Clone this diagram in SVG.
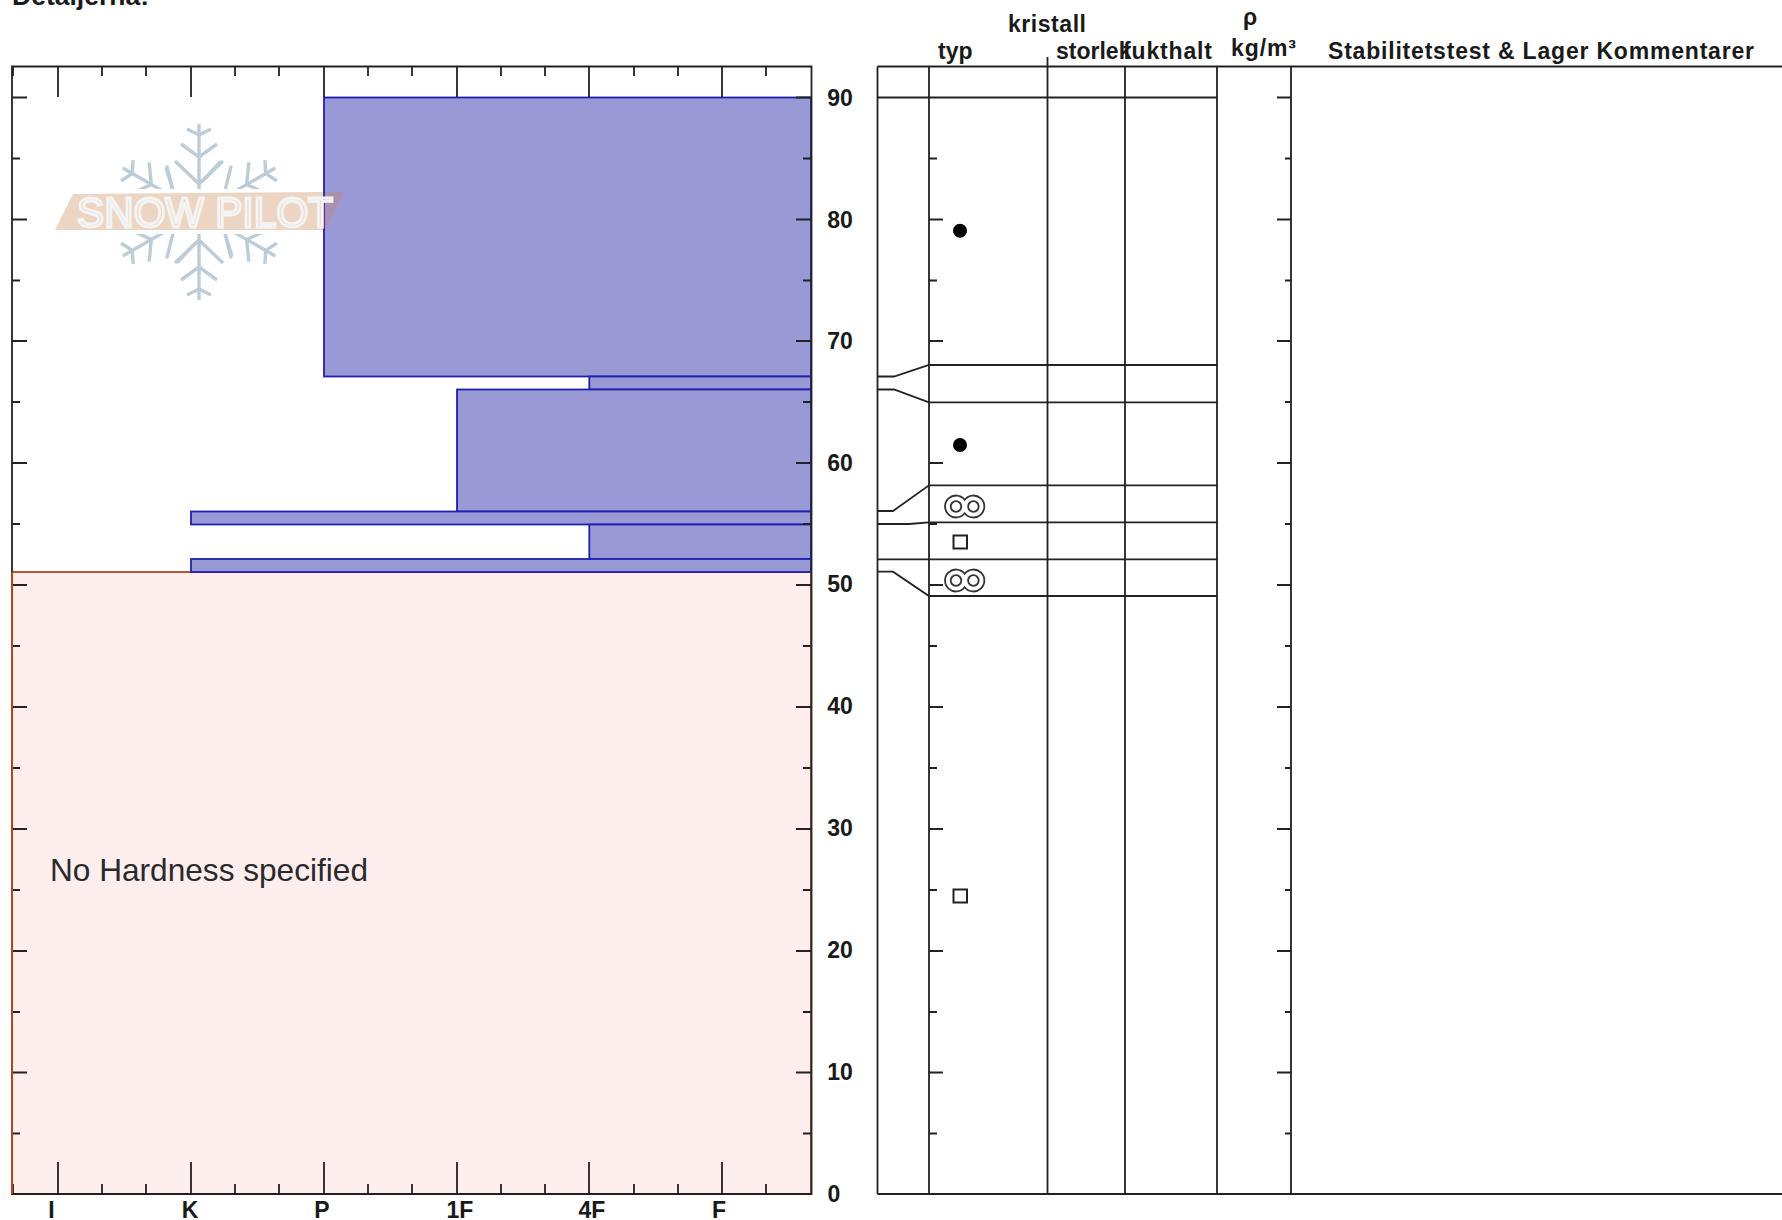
<svg xmlns="http://www.w3.org/2000/svg" xmlns:xlink="http://www.w3.org/1999/xlink" width="1782" height="1220" viewBox="0 0 1782 1220">
<style>
.t{font-family:"Liberation Sans",Arial,sans-serif;font-weight:700;font-size:23px;fill:#1a1a1a}
.n{text-anchor:middle}
.l{stroke:#222;stroke-width:1.8;fill:none}
.h{fill:#9999d5;stroke:#2020b0;stroke-width:1.8}
.ring{fill:none;stroke:#333;stroke-width:1.8}
.sq{fill:#fff;stroke:#222;stroke-width:2}
.fl{stroke:#bccdd8;stroke-width:3.4;fill:none}
</style>
<defs>
<g id="arm" class="fl">
<path d="M0-22V-88M0-28L-24-51M0-28L24-51M0-55L-18-68M0-55L18-68M0-77L-12-83M0-77L12-83"/>
<path d="M-26-22L-33-44"/>
</g>
<g id="rg">
<path class="ring" d="M8.7-6.8A11 11 0 1 0 8.7 6.8A11 11 0 1 0 8.7-6.8Z"/>
<circle class="ring" cx="0" cy="0" r="5.3"/>
<circle class="ring" cx="17.4" cy="0" r="5.3"/>
</g>
<clipPath id="flake-clip"><path d="M90 110H310V189H90ZM90 234H310V310H90Z"/></clipPath>
</defs>
<rect width="1782" height="1220" fill="#fff"/>
<text id="title" class="t" x="12" y="5" style="font-size:26px" textLength="137" lengthAdjust="spacingAndGlyphs">Detaljerna:</text>

<g id="hardness-chart">
<rect id="no-hardness" x="12" y="572" width="799" height="622" fill="#feeeee" stroke="#b5431f" stroke-width="1.8"/>
<rect id="layer-1" class="h" x="324" y="97.5" width="487" height="279"/>
<rect id="layer-2" class="h" x="589.3" y="376.5" width="221.7" height="13"/>
<rect id="layer-3" class="h" x="457" y="389.5" width="354" height="122"/>
<rect id="layer-4" class="h" x="191" y="511.5" width="620" height="13"/>
<rect id="layer-5" class="h" x="589.3" y="524.5" width="221.7" height="34.5"/>
<rect id="layer-6" class="h" x="191" y="559" width="620" height="13"/>
<text id="no-hardness-label" x="50" y="881" font-family="'Liberation Sans',Arial,sans-serif" font-size="30.5" fill="#2a2a2a" textLength="318" lengthAdjust="spacingAndGlyphs">No Hardness specified</text>
<g id="logo">
<g clip-path="url(#flake-clip)">
<use xlink:href="#arm" href="#arm" transform="translate(199 212)"/>
<use xlink:href="#arm" href="#arm" transform="translate(199 212) rotate(60)"/>
<use xlink:href="#arm" href="#arm" transform="translate(199 212) rotate(120)"/>
<use xlink:href="#arm" href="#arm" transform="translate(199 212) rotate(180)"/>
<use xlink:href="#arm" href="#arm" transform="translate(199 212) rotate(240)"/>
<use xlink:href="#arm" href="#arm" transform="translate(199 212) rotate(300)"/>
</g>
<polygon points="55,230 73,194 323,192 323,230" fill="#ecd5c2"/>
<polygon points="325,230 325,192 344,192" fill="#a98fb0"/>
<text x="77" y="227" font-family="'Liberation Sans',Arial,sans-serif" font-size="43" fill="none" stroke="#f4f4f4" stroke-width="2.8" textLength="256" lengthAdjust="spacingAndGlyphs">SNOW PILOT</text>
</g>
<path id="chart-frame" class="l" d="M12 66.5H811.5V1194H12ZM13 66.5V76M13 1194V1184
M58 66.5V97M102 66.5V76M146 66.5V76M191 66.5V97M235 66.5V76M279 66.5V76M324 66.5V97M368 66.5V76M412 66.5V76M457 66.5V97M501 66.5V76M545 66.5V76M589 66.5V97M634 66.5V76M678 66.5V76M722 66.5V97M766 66.5V76
M58 1194V1162M102 1194V1184M146 1194V1184M191 1194V1162M235 1194V1184M279 1194V1184M324 1194V1162M368 1194V1184M412 1194V1184M457 1194V1162M501 1194V1184M545 1194V1184M589 1194V1162M634 1194V1184M678 1194V1184M722 1194V1162M766 1194V1184
M12 97.5h15M12 158.5h8M12 219.5h15M12 280.5h8M12 341h15M12 402h8M12 463h15M12 524h8M12 585h15M12 646h8M12 707h15M12 768h8M12 829h15M12 890h8M12 951h15M12 1012h8M12 1072.5h15M12 1133.5h8
M811 97.5h-15M811 158.5h-8M811 219.5h-15M811 280.5h-8M811 341h-15M811 402h-8M811 463h-15M811 524h-8M811 585h-15M811 646h-8M811 707h-15M811 768h-8M811 829h-15M811 890h-8M811 951h-15M811 1012h-8M811 1072.5h-15M811 1133.5h-8"/>
<path id="hardness-edge" d="M12 572V1194" stroke="#b5431f" stroke-width="2" fill="none"/>
</g>

<g id="axis-labels">
<text class="t n" x="840" y="106">90</text><text class="t n" x="840" y="228">80</text><text class="t n" x="840" y="349">70</text><text class="t n" x="840" y="471">60</text><text class="t n" x="840" y="592">50</text><text class="t n" x="840" y="714">40</text><text class="t n" x="840" y="836">30</text><text class="t n" x="840" y="958">20</text><text class="t n" x="840" y="1080">10</text><text class="t n" x="834" y="1202">0</text>
<text class="t n" x="51.500" y="1218">I</text><text class="t n" x="190" y="1218">K</text><text class="t n" x="322" y="1218">P</text><text class="t n" x="460" y="1218">1F</text><text class="t n" x="592" y="1218">4F</text><text class="t n" x="719" y="1218">F</text>
</g>

<g id="headers">
<text class="t" x="938" y="59">typ</text>
<text class="t" x="1008" y="32" textLength="78">kristall</text>
<text class="t" x="1056" y="59">storlek</text>
<text class="t" x="1123" y="59" textLength="89">fukthalt</text>
<text class="t" x="1243" y="25">ρ</text>
<text class="t" x="1231" y="56" textLength="65">kg/m³</text>
<text class="t" x="1328" y="59" textLength="426">Stabilitetstest &amp; Lager Kommentarer</text>
</g>

<g id="connectors">
<path class="l" d="M877.500 66.500H1782M877.500 1194H1782M877.500 66.500V1194M929 66.500V1194M1047.500 57V1194M1125 66.500V1194M1217 66.500V1194M1291 66.500V1194M878 97.500H1217"/>
<path class="l" d="M878 376.500H894L929 365H1217M878 389.500H894L929 402.300H1217M878 511H893L929 485.300H1217M878 524H909L929 522.300H1217M878 559.300H1217M878 571.700H893L929 596H1217"/>
<path class="l" d="M929 158.500h8M929 219.500h14M929 280.500h8M929 341h14M929 463h14M929 524h8M929 585h14M929 646h8M929 707h14M929 768h8M929 829h14M929 890h8M929 951h14M929 1012h8M929 1072.500h14M929 1133.500h8
M1291 97.500h-14M1291 158.500h-6M1291 219.500h-14M1291 280.500h-6M1291 341h-14M1291 402h-6M1291 463h-14M1291 524h-6M1291 585h-14M1291 646h-6M1291 707h-14M1291 768h-6M1291 829h-14M1291 890h-6M1291 951h-14M1291 1012h-6M1291 1072.500h-14M1291 1133.500h-6"/>
</g>

<g id="grain-symbols">
<circle id="grain-1" cx="960" cy="230.700" r="7" fill="#000"/>
<circle id="grain-2" cx="960" cy="445" r="7" fill="#000"/>
<use id="grain-3" xlink:href="#rg" href="#rg" x="956" y="506.500"/>
<rect id="grain-4" class="sq" x="953.500" y="535.500" width="13.500" height="13"/>
<use id="grain-5" xlink:href="#rg" href="#rg" x="956" y="580.500"/>
<rect id="grain-6" class="sq" x="953.500" y="889.500" width="13.500" height="13"/>
</g>
</svg>
